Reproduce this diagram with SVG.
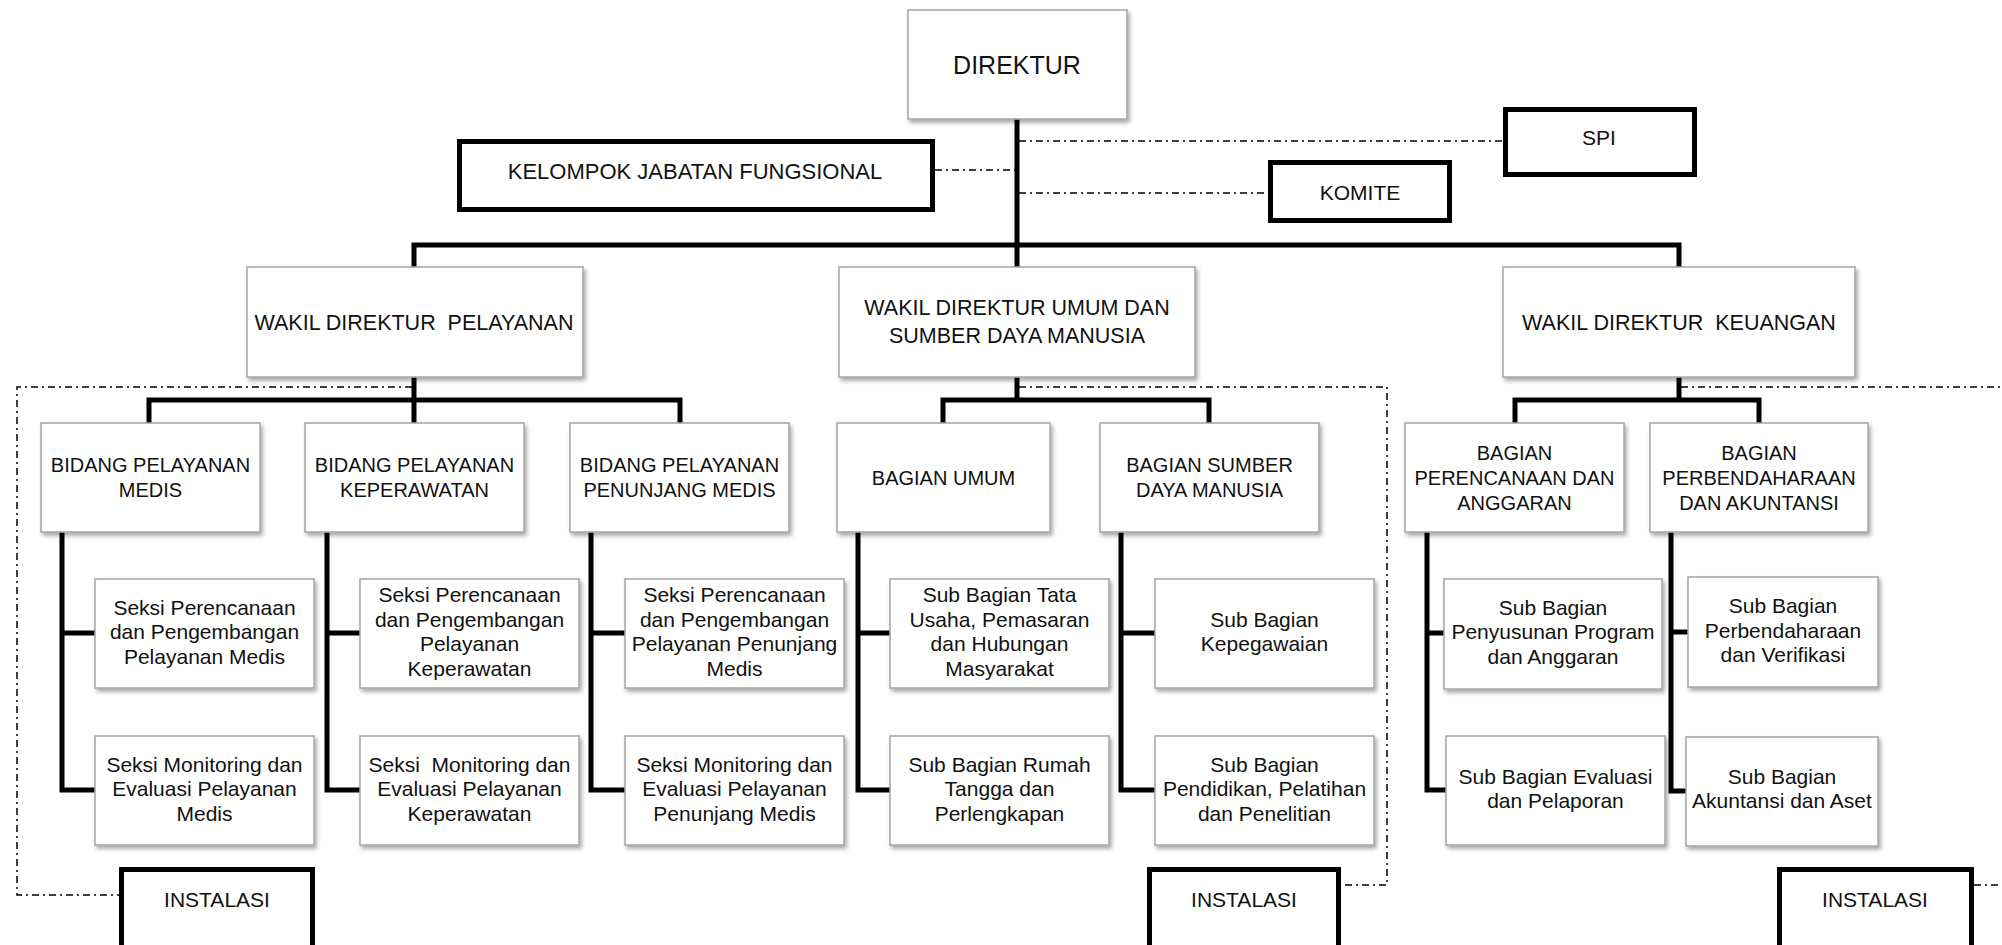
<svg xmlns="http://www.w3.org/2000/svg" width="2002" height="945" viewBox="0 0 2002 945">
<defs>
<filter id="sh" x="-10%" y="-10%" width="125%" height="130%">
<feDropShadow dx="2" dy="3" stdDeviation="2" flood-color="#000" flood-opacity="0.35"/>
</filter>
</defs>
<style>
.box{fill:#fff;stroke:#a5a5a5;stroke-width:1.5;filter:url(#sh)}
.tbox{fill:#fff;stroke:#000;stroke-width:5}
.ln{fill:none;stroke:#000;stroke-width:5;stroke-linejoin:miter}
.dd{fill:none;stroke:#000;stroke-width:1.5;stroke-dasharray:7 4 2 4}
text{font-family:"Liberation Sans",Arial,sans-serif;fill:#111;text-anchor:middle}
.f25{font-size:25px}
.f22{font-size:22px}
.f215{font-size:21.5px}
.f21{font-size:21px}
.f20{font-size:20px}
</style>
<rect width="2002" height="945" fill="#fff"/>
<g id="connectors">
<path class="ln" d="M1017,119 V267"/>
<path class="ln" d="M414,267 V245 H1679 V267"/>
<path class="ln" d="M149,423 V400 H680 V423"/>
<path class="ln" d="M414,377 V423"/>
<path class="ln" d="M943,423 V400 H1209 V423"/>
<path class="ln" d="M1017,377 V400"/>
<path class="ln" d="M1515,423 V400 H1759 V423"/>
<path class="ln" d="M1679,377 V400"/>
<path class="ln" d="M62,532 V790 H95 M62,633 H95"/>
<path class="ln" d="M327,532 V790 H360 M327,633 H360"/>
<path class="ln" d="M591,532 V790 H625 M591,633 H625"/>
<path class="ln" d="M858,532 V790 H890 M858,633 H890"/>
<path class="ln" d="M1121,532 V790 H1155 M1121,633 H1155"/>
<path class="ln" d="M1427,532 V790 H1446 M1427,633 H1444"/>
<path class="ln" d="M1671,532 V791 H1686 M1671,632 H1688"/>
<path class="dd" d="M935,170 H1015"/>
<path class="dd" d="M1019,141 H1503"/>
<path class="dd" d="M1019,193 H1268"/>
<path class="dd" d="M412,387 H17 V895 H119"/>
<path class="dd" d="M1019,387 H1387 V885 H1341"/>
<path class="dd" d="M1681,387 H2002"/>
<path class="dd" d="M1974,885 H2002"/>
</g>
<g id="direktur"><rect class="box" x="908" y="10" width="219" height="109"/><text class="f25" x="1017" y="74">DIREKTUR</text></g>
<g id="kjf"><rect class="tbox" x="459.5" y="141.5" width="473" height="68"/><text class="f22" x="695" y="179">KELOMPOK JABATAN FUNGSIONAL</text></g>
<g id="spi"><rect class="tbox" x="1505.5" y="109.5" width="189" height="65"/><text class="f21" x="1599" y="145">SPI</text></g>
<g id="komite"><rect class="tbox" x="1270.5" y="162.5" width="179" height="58"/><text class="f21" x="1360" y="200">KOMITE</text></g>
<g id="wdp"><rect class="box" x="247" y="267" width="336" height="110"/><text class="f215" x="414" y="330" xml:space="preserve">WAKIL DIREKTUR  PELAYANAN</text></g>
<g id="wdu"><rect class="box" x="839" y="267" width="356" height="110"/><text class="f215" x="1017" y="315">WAKIL DIREKTUR UMUM DAN</text><text class="f215" x="1017" y="343">SUMBER DAYA MANUSIA</text></g>
<g id="wdk"><rect class="box" x="1503" y="267" width="352" height="110"/><text class="f215" x="1679" y="330" xml:space="preserve">WAKIL DIREKTUR  KEUANGAN</text></g>
<g id="bpm"><rect class="box" x="41" y="423" width="219" height="109"/><text class="f20" x="150.5" y="472">BIDANG PELAYANAN</text><text class="f20" x="150.5" y="497">MEDIS</text></g>
<g id="bpk"><rect class="box" x="305" y="423" width="219" height="109"/><text class="f20" x="414.5" y="472">BIDANG PELAYANAN</text><text class="f20" x="414.5" y="497">KEPERAWATAN</text></g>
<g id="bppm"><rect class="box" x="570" y="423" width="219" height="109"/><text class="f20" x="679.5" y="472">BIDANG PELAYANAN</text><text class="f20" x="679.5" y="497">PENUNJANG MEDIS</text></g>
<g id="bu"><rect class="box" x="837" y="423" width="213" height="109"/><text class="f20" x="943.5" y="485">BAGIAN UMUM</text></g>
<g id="bsdm"><rect class="box" x="1100" y="423" width="219" height="109"/><text class="f20" x="1209.5" y="472">BAGIAN SUMBER</text><text class="f20" x="1209.5" y="497">DAYA MANUSIA</text></g>
<g id="bpa"><rect class="box" x="1405" y="423" width="219" height="109"/><text class="f20" x="1514.5" y="460">BAGIAN</text><text class="f20" x="1514.5" y="485">PERENCANAAN DAN</text><text class="f20" x="1514.5" y="510">ANGGARAN</text></g>
<g id="bpak"><rect class="box" x="1650" y="423" width="218" height="109"/><text class="f20" x="1759" y="460">BAGIAN</text><text class="f20" x="1759" y="485">PERBENDAHARAAN</text><text class="f20" x="1759" y="510">DAN AKUNTANSI</text></g>
<g id="bpm1"><rect class="box" x="95" y="579" width="219" height="109"/><text class="f21" x="204.5" y="615">Seksi Perencanaan</text><text class="f21" x="204.5" y="639">dan Pengembangan</text><text class="f21" x="204.5" y="664">Pelayanan Medis</text></g>
<g id="bpm2"><rect class="box" x="95" y="736" width="219" height="109"/><text class="f21" x="204.5" y="772">Seksi Monitoring dan</text><text class="f21" x="204.5" y="796">Evaluasi Pelayanan</text><text class="f21" x="204.5" y="821">Medis</text></g>
<g id="bpk1"><rect class="box" x="360" y="579" width="219" height="109"/><text class="f21" x="469.5" y="602">Seksi Perencanaan</text><text class="f21" x="469.5" y="627">dan Pengembangan</text><text class="f21" x="469.5" y="651">Pelayanan</text><text class="f21" x="469.5" y="676">Keperawatan</text></g>
<g id="bpk2"><rect class="box" x="360" y="736" width="219" height="109"/><text class="f21" x="469.5" y="772" xml:space="preserve">Seksi  Monitoring dan</text><text class="f21" x="469.5" y="796">Evaluasi Pelayanan</text><text class="f21" x="469.5" y="821">Keperawatan</text></g>
<g id="bppm1"><rect class="box" x="625" y="579" width="219" height="109"/><text class="f21" x="734.5" y="602">Seksi Perencanaan</text><text class="f21" x="734.5" y="627">dan Pengembangan</text><text class="f21" x="734.5" y="651">Pelayanan Penunjang</text><text class="f21" x="734.5" y="676">Medis</text></g>
<g id="bppm2"><rect class="box" x="625" y="736" width="219" height="109"/><text class="f21" x="734.5" y="772">Seksi Monitoring dan</text><text class="f21" x="734.5" y="796">Evaluasi Pelayanan</text><text class="f21" x="734.5" y="821">Penunjang Medis</text></g>
<g id="bu1"><rect class="box" x="890" y="579" width="219" height="109"/><text class="f21" x="999.5" y="602">Sub Bagian Tata</text><text class="f21" x="999.5" y="627">Usaha, Pemasaran</text><text class="f21" x="999.5" y="651">dan Hubungan</text><text class="f21" x="999.5" y="676">Masyarakat</text></g>
<g id="bu2"><rect class="box" x="890" y="736" width="219" height="109"/><text class="f21" x="999.5" y="772">Sub Bagian Rumah</text><text class="f21" x="999.5" y="796">Tangga dan</text><text class="f21" x="999.5" y="821">Perlengkapan</text></g>
<g id="bsdm1"><rect class="box" x="1155" y="579" width="219" height="109"/><text class="f21" x="1264.5" y="627">Sub Bagian</text><text class="f21" x="1264.5" y="651">Kepegawaian</text></g>
<g id="bsdm2"><rect class="box" x="1155" y="736" width="219" height="109"/><text class="f21" x="1264.5" y="772">Sub Bagian</text><text class="f21" x="1264.5" y="796">Pendidikan, Pelatihan</text><text class="f21" x="1264.5" y="821">dan Penelitian</text></g>
<g id="bpa1"><rect class="box" x="1444" y="579" width="218" height="110"/><text class="f21" x="1553" y="615">Sub Bagian</text><text class="f21" x="1553" y="639">Penyusunan Program</text><text class="f21" x="1553" y="664">dan Anggaran</text></g>
<g id="bpa2"><rect class="box" x="1446" y="736" width="219" height="109"/><text class="f21" x="1555.5" y="784">Sub Bagian Evaluasi</text><text class="f21" x="1555.5" y="808">dan Pelaporan</text></g>
<g id="bpak1"><rect class="box" x="1688" y="577" width="190" height="110"/><text class="f21" x="1783" y="613">Sub Bagian</text><text class="f21" x="1783" y="638">Perbendaharaan</text><text class="f21" x="1783" y="662">dan Verifikasi</text></g>
<g id="bpak2"><rect class="box" x="1686" y="737" width="192" height="109"/><text class="f21" x="1782" y="784">Sub Bagian</text><text class="f21" x="1782" y="808">Akuntansi dan Aset</text></g>
<g id="inst1"><rect class="tbox" x="121.5" y="869.5" width="191" height="100"/><text class="f21" x="217" y="907">INSTALASI</text></g>
<g id="inst2"><rect class="tbox" x="1149.5" y="869.5" width="189" height="100"/><text class="f21" x="1244" y="907">INSTALASI</text></g>
<g id="inst3"><rect class="tbox" x="1779.5" y="869.5" width="192" height="100"/><text class="f21" x="1875" y="907">INSTALASI</text></g>
</svg>
